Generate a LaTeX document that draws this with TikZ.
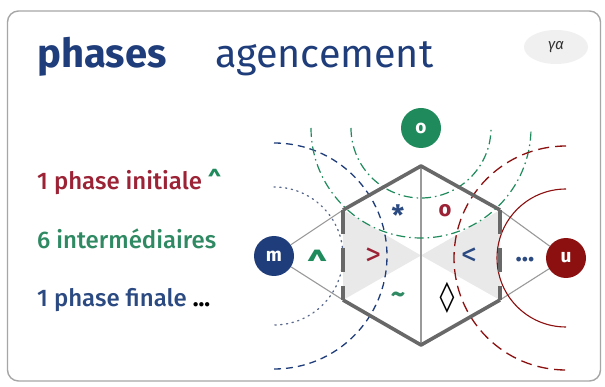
\documentclass[tikz,border=0pt]{standalone}
\usepackage{fontspec}
\setmainfont{Fira Sans}[UprightFont={* Medium}, BoldFont={* Bold}, ItalicFont={* Italic}]
\newfontfamily\regfont{Fira Sans}
\newfontfamily\symfont{DejaVu Sans}
\usetikzlibrary{shapes.geometric}
\definecolor{navy}{HTML}{1F3D7A}
\definecolor{navytxt}{HTML}{2B4A82}
\definecolor{grn}{HTML}{1F8A5C}
\definecolor{grntxt}{HTML}{2F8A63}
\definecolor{dred}{HTML}{8C1010}
\definecolor{redtxt}{HTML}{9B2335}
\definecolor{hexgray}{HTML}{686868}
\definecolor{lngray}{HTML}{9A9A9A}
\definecolor{shadegray}{HTML}{E9E9E9}
\definecolor{dotblue}{HTML}{5A6A8E}
\tikzset{
  phasenode/.style={circle, minimum size=40pt, inner sep=0pt, text=white, font=\bfseries\fontsize{19}{20}\selectfont},
  sym/.style={inner sep=0pt},
  hexline/.style={draw=hexgray, line width=3.6pt, line join=round},
  connline/.style={draw=lngray, line width=1.1pt},
  listtxt/.style={anchor=base west, inner sep=0pt, font=\fontsize{24}{26}\selectfont},
  titletxt/.style={anchor=base west, inner sep=0pt, text=navy},
}
\begin{document}
\begin{tikzpicture}[x=1pt,y=-1pt]
\useasboundingbox (0,0) rectangle (605,387);
\fill[white] (0,0) rectangle (605,387);
\draw[draw=gray!70, line width=1.4pt, rounded corners=11pt] (7.5,11) rectangle (600.5,381);

% title
\node[titletxt, font=\bfseries\fontsize{40}{42}\selectfont] (t1) at (37,68) {phases};
\node[titletxt, font=\regfont\fontsize{39.5}{42}\selectfont] (t2) at (215,68) {agencement};
\node[ellipse, fill=gray!12, minimum width=64pt, minimum height=34pt, inner sep=0pt,
      text=black!80, font=\itshape\fontsize{15}{16}\selectfont] (pill) at (556,47) {γα};

% list
\node[listtxt, text=redtxt] (l1) at (37,190) {1 phase initiale \textcolor{grn}{\textbf{\textasciicircum}}};
\node[listtxt, text=grntxt] (l2) at (37,249) {6 intermédiaires};
\node[listtxt, text=navytxt] (l3) at (37,306) {1 phase finale \textcolor{black}{\textbf{...}}};

% hexagon geometry
\coordinate (C) at (421,255.5);
\coordinate (T) at (421,166);
\coordinate (B) at (421,345);
\coordinate (UL) at (343,210);
\coordinate (LL) at (343,300);
\coordinate (UR) at (500,210);
\coordinate (LR) at (500,300);

\fill[shadegray] (UL) -- (LL) -- (C) -- cycle;
\fill[shadegray] (UR) -- (LR) -- (C) -- cycle;
\draw[connline, line width=1.3pt] (T) -- (B);

% nodes
\node[phasenode, fill=grn] (o) at (421,128) {o};
\node[phasenode, fill=navy] (m) at (274,256) {m};
\node[phasenode, fill=dred] (u) at (566,258) {u};

\draw[connline] (m) -- (UL);
\draw[connline] (m) -- (LL);
\draw[connline] (u) -- (UR);
\draw[connline] (u) -- (LR);

% arcs around m
\draw[navy, line width=1.3pt, dash pattern=on 7pt off 5pt] (274,143) arc[start angle=-90, end angle=90, radius=113];
\draw[dotblue, line width=1.3pt, dash pattern=on 1.3pt off 4.5pt, line cap=round] (274,187) arc[start angle=-90, end angle=90, radius=69];
% arcs around o
\draw[grn, line width=1.2pt, dash pattern=on 9pt off 4pt on 1.5pt off 4pt] (311,128) arc[start angle=180, end angle=0, radius=110];
\draw[grn, line width=1.2pt, dash pattern=on 9pt off 4pt on 1.5pt off 4pt] (351,128) arc[start angle=180, end angle=0, radius=70];
% arcs around u
\draw[dred, line width=1.3pt, dash pattern=on 11pt off 6pt] (566,146) arc[start angle=-90, end angle=-270, radius=112];
\draw[dred, line width=1.1pt] (566,189) arc[start angle=-90, end angle=-270, radius=69];

% hexagon
\draw[hexline] (UL) -- (T) -- (UR);
\draw[hexline] (LL) -- (B) -- (LR);
\draw[hexline, dash pattern=on 24pt off 14pt] (UL) -- (LL);
\draw[hexline, dash pattern=on 24pt off 14pt] (UR) -- (LR);

% symbols
\node[sym, text=grn, font=\bfseries\fontsize{36}{40}\selectfont, anchor=base] (s1) at (318,281) {\textasciicircum};
\node[sym, text=redtxt, font=\regfont\fontsize{32}{36}\selectfont] (s2) at (373,257) {>};
\node[sym, text=navytxt, font=\regfont\fontsize{32}{36}\selectfont] (s3) at (469,257) {<};
\node[sym, text=navytxt, font=\bfseries\fontsize{26}{28}\selectfont] (s4) at (525,260) {...};
\node[sym, text=navytxt, font=\bfseries\fontsize{28}{30}\selectfont, anchor=base] (s5) at (398,226) {*};
\node[sym, text=redtxt, font=\bfseries\fontsize{22}{24}\selectfont] (s6) at (445,211) {o};
\node[sym, text=grntxt, font=\bfseries\fontsize{28}{30}\selectfont] (s7) at (398,298) {\char"007E};
\node[sym, text=black, font=\symfont\bfseries\fontsize{30}{32}\selectfont] (s8) at (447,298) {◊};
\end{tikzpicture}
\end{document}
